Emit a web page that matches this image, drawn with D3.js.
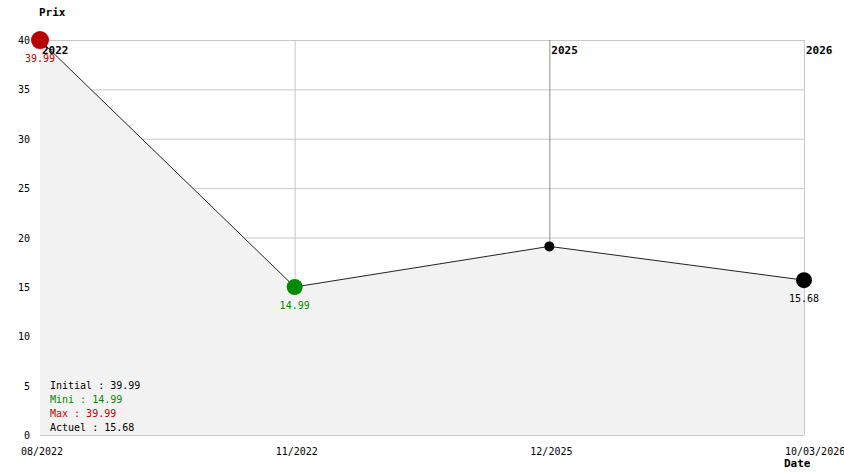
<!DOCTYPE html>
<meta charset="utf-8">
<style>
  body { margin: 0; background: #fff; }
  text { font-family: "DejaVu Sans Mono", "Liberation Mono", monospace; font-size: 10px; }
  .bold { font-size: 11px; font-weight: bold; }
</style>
<body>
<script src="https://d3js.org/d3.v7.min.js"></script>
<script>

  let dates = ["08/2022", "11/2022", "12/2025", "10/03/2026"],
    prices = [39.99, 14.99, 19.1, 15.68],
    yTicks = [0, 5, 10, 15, 20, 25, 30, 35, 40],
    years = [{ label: "2022", at: "08/2022" }, { label: "2025", at: "12/2025" }, { label: "2026", at: "10/03/2026" }],
    legend = [
      { text: "Initial : 39.99", color: "#000" },
      { text: "Mini : 14.99", color: "#008a00" },
      { text: "Max : 39.99", color: "#c00000" },
      { text: "Actuel : 15.68", color: "#000" }
    ];

  let width = 844,
    height = 474;

  let x = d3.scalePoint().domain(dates).range([40, 804]),
    y = d3.scaleLinear().domain([0, 40]).range([435, 40]);

  let data = dates.map(function(d, i) { return { date: d, price: prices[i] }; });

  let svg = d3.select("body").append("svg")
    .attr("width", width)
    .attr("height", height);

  // grille
  svg.selectAll(".hgrid")
    .data(yTicks)
    .enter().append("line")
    .attr("x1", 40).attr("x2", 804)
    .attr("y1", d => y(d) + 0.5).attr("y2", d => y(d) + 0.5)
    .attr("stroke", "#c8c8c8");

  svg.selectAll(".vgrid")
    .data(dates.slice(1))
    .enter().append("line")
    .attr("x1", d => x(d) + 0.5).attr("x2", d => x(d) + 0.5)
    .attr("y1", y(40)).attr("y2", y(0))
    .attr("stroke", d => d === "12/2025" ? "#8c8c8c" : "#c8c8c8");

  // zone sous la courbe
  let area = d3.area()
    .x(d => x(d.date))
    .y0(y(0))
    .y1(d => y(d.price));

  svg.append("path")
    .datum(data)
    .attr("d", area)
    .attr("fill", "#f2f2f2");

  let line = d3.line()
    .x(d => x(d.date))
    .y(d => y(d.price));

  svg.append("path")
    .datum(data)
    .attr("d", line)
    .attr("fill", "none")
    .attr("stroke", "#222")
    .attr("stroke-width", 1);

  // axe Y
  svg.selectAll(".ylab")
    .data(yTicks)
    .enter().append("text")
    .attr("x", 30)
    .attr("y", d => y(d) + 4)
    .attr("text-anchor", "end")
    .text(d => d);

  svg.append("text")
    .attr("class", "bold")
    .attr("x", 39).attr("y", 16)
    .text("Prix");

  // axe X
  svg.selectAll(".xlab")
    .data(dates)
    .enter().append("text")
    .attr("x", d => x(d) - 19)
    .attr("y", 455)
    .text(d => d);

  svg.append("text")
    .attr("class", "bold")
    .attr("x", 784).attr("y", 467)
    .text("Date");

  // années
  svg.selectAll(".year")
    .data(years)
    .enter().append("text")
    .attr("class", "bold")
    .attr("x", d => x(d.at) + 2)
    .attr("y", 54)
    .text(d => d.label);

  // points
  let colors = ["#b80000", "#008a00", "#000", "#000"],
    radii = [9, 8, 5, 8];

  svg.selectAll(".dot")
    .data(data)
    .enter().append("circle")
    .attr("cx", d => x(d.date))
    .attr("cy", d => y(d.price))
    .attr("r", (d, i) => radii[i])
    .attr("fill", (d, i) => colors[i]);

  let labelled = [
    { i: 0, color: "#c00000" },
    { i: 1, color: "#008a00" },
    { i: 3, color: "#000" }
  ];

  svg.selectAll(".vlab")
    .data(labelled)
    .enter().append("text")
    .attr("x", d => x(dates[d.i]))
    .attr("y", d => y(prices[d.i]) + 22)
    .attr("text-anchor", "middle")
    .attr("fill", d => d.color)
    .text(d => prices[d.i].toFixed(2));

  // légende
  svg.selectAll(".leg")
    .data(legend)
    .enter().append("text")
    .attr("x", 50)
    .attr("y", (d, i) => 389 + i * 14)
    .attr("fill", d => d.color)
    .text(d => d.text);

</script>
